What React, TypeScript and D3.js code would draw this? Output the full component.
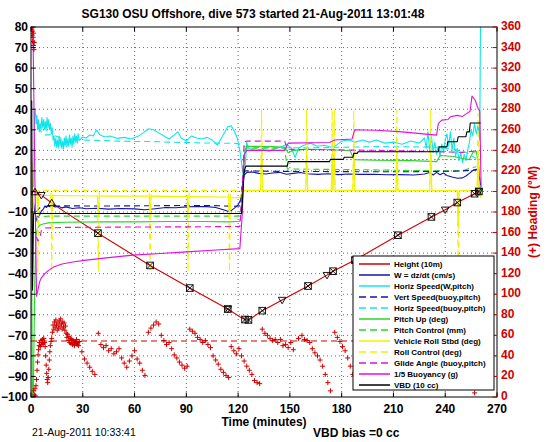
import React from 'react';
import * as d3 from 'd3';

type P = [number, number];

const titleText = 'SG130 OSU Offshore, dive 573 started 21-Aug-2011 13:01:48';
const xLabel = 'Time (minutes)';
const y2Label = '(+) Heading (\u00B0M)';
const footLeft = '21-Aug-2011 10:33:41';
const footRight = 'VBD bias =0 cc';

const xTicks = d3.range(0, 271, 30);
const yTicks = d3.range(-100, 81, 10);
const y2Ticks = d3.range(0, 361, 20);

// Height (10m)
const heightPts: P[] = [[0,0],[2.3,-0.3],[6,-1.8],[12,-5.6],[20,-10.2],[38.8,-20.3],[69,-36],[92,-47],[114,-57.2],[122,-61.5],[124,-62.3],[126,-62.5],[128,-61.5],[134,-58],[145.5,-52.8],[160.5,-46],[171.5,-40.7],[175,-38.8],[187.7,-33.4],[212.6,-21.3],[232,-12.4],[240,-8.9],[247,-5.4],[257,-1.1],[259.5,0]];
const heightDown: P[] = [[6,-1.8],[114,-57.2],[145.5,-52.8],[171.5,-40.7],[240,-8.9],[259.5,0]];
const heightUp: P[] = [[2.3,-0.3],[12,-5.6]];
const heightBox: P[] = [[38.8,-20.3],[69,-36],[92,-47],[114,-57.2],[124,-62.3],[126,-62.5],[134,-58],[160.5,-46],[175,-38.8],[187.7,-33.4],[212.6,-21.3],[232,-12.4],[247,-5.4],[257,-1.1],[259.5,0]];

// W = dz/dt
const wPts: P[] = [[0,0],[1,-3],[2,-9],[3,-13],[3.5,-14.5],[4,-12],[5,-11.5],[6,-9.5],[7,-8.8],[8,-7.2],[9,-7.8],[10,-6.8],[11,-7.5],[12,-7],[14,-7.6],[16,-7.2],[18,-8],[20,-7.5],[24,-8.3],[28,-7.9],[32,-8.4],[38,-8.2],[45,-8.6],[52,-8.3],[60,-8.5],[66,-8.9],[72,-8.4],[78,-7.8],[84,-7.9],[90,-7.5],[96,-7.3],[102,-7.4],[107,-7.8],[111,-8.8],[114,-9.6],[116,-9.3],[118,-8],[120,-6.5],[121.5,-4],[122.5,2],[123.5,8],[125,9.2],[128,9.5],[132,8.8],[136,8.5],[140,9],[144,9.3],[148,8.4],[152,8.8],[156,9.2],[160,8.6],[166,8.3],[172,8.6],[178,8.2],[184,8.5],[190,8.3],[198,8.4],[206,8.1],[214,8.2],[222,8],[228,8.5],[231,9.2],[233,8],[235,9.3],[237,8.1],[239,9],[241,7.8],[244,7],[247,6.4],[250,6.6],[252,7.5],[254,8.8],[256,10.2],[258,10.8],[259.5,9.5],[260.5,3]];
// Vert Speed(buoy,pitch)
const vsPts: P[] = [[3,-10],[5,-8],[8,-7.2],[20,-7],[40,-7.1],[60,-7],[80,-6.9],[100,-6.8],[110,-7],[118,-7.2],[121.5,-7],[122.5,5],[124,10],[140,9.8],[160,9.7],[190,9.6],[220,9.6],[240,9.8],[250,10],[258,10.5]];
// Horiz Speed(W,pitch)
const hsPts: P[] = [[1.5,2],[1.8,25],[2.1,38],[2.5,40],[3,33],[3.4,37],[3.8,30],[4.3,35],[4.8,29],[5.3,33],[5.8,30],[6.3,36],[6.8,31],[7.3,35],[7.8,30],[8.3,34],[8.8,29.5],[9.3,36],[9.8,31],[10.3,35],[10.8,30],[11.3,33],[11.8,28],[12.3,31],[12.8,25],[13.3,27],[13.8,22],[14.3,26],[14.8,21.5],[15.3,25],[15.8,21],[16.3,27],[16.8,22],[17.3,26],[17.8,21],[18.3,24.5],[18.8,20.5],[19.3,26],[19.8,22],[20.3,27],[20.8,21.5],[21.3,25],[21.8,22],[22.3,27.5],[22.8,23],[23.3,26],[23.8,21.5],[24.3,27],[24.8,23],[25.3,28],[25.8,24],[26.3,27],[26.8,23.5],[27.3,28],[28,25],[30,26.5],[32,26],[34,27.5],[36,27],[38,29.8],[40,27.5],[43,26.5],[46,27],[50,25.8],[54,26.3],[58,25.5],[62,26.8],[65,28.5],[68,30.5],[71,30],[74,28.5],[77,27],[80,25.5],[83,27.5],[85,29],[87,26],[90,24.5],[93,27],[96,26],[99,25.5],[102,26.3],[105,25],[108,22.5],[111,27],[114,31.5],[116,32],[118,29],[119.5,26],[121,20],[122,14],[123,7],[124,11],[125,24],[126,21],[130,20],[134,20.5],[138,19.5],[142,21],[146,22],[148,23],[151,21],[153,16.5],[155,21],[158,22.5],[162,23.5],[166,22],[170,22.5],[174,21.5],[177,22.5],[180,24.5],[184,25],[188,24],[192,25],[196,24],[200,25],[205,23.5],[210,24],[215,23],[220,24.5],[225,23.5],[228,26],[229,21],[230,29],[231,20],[232,27],[233,19],[234,24],[235,18],[236,22],[237,17],[238,23],[239,19],[240,25],[241,28],[242,22],[243,29],[244,20],[245,26],[246,17],[247,21],[248,15],[249,19],[250,14],[251,18],[252,15],[253,20],[254,24],[255,30],[256,27],[257,33],[258,28],[259,32],[260,25],[260.5,90]];
// Horiz Speed(buoy,pitch)
const hbPts: P[] = [[4,31],[6,29],[8,27.5],[12,27.5],[16,26.5],[20,25.5],[30,25],[40,24.8],[50,24.5],[60,24.3],[70,24.3],[80,24],[90,23.8],[100,23.6],[110,23.5],[118,23.4],[121.5,23],[123,22],[125,21.5],[140,21.3],[160,21.2],[180,21.5],[200,21.8],[220,21.7],[235,21.5],[245,20.5],[252,19],[256,17],[258,16]];
// Pitch Up (deg)
const pitchPts: P[] = [[0.2,-8],[0.8,-100],[1.3,-100],[2.2,-45],[2.8,-22],[3.5,-19],[4,-17.5],[5,-16.5],[7,-15.8],[10,-15.3],[20,-15],[40,-14.8],[60,-14.8],[80,-14.6],[100,-14.6],[115,-14.8],[121,-14.5],[122,-10],[123,8],[124,20],[125,22],[140,21.8],[147,21.5],[149,18.8],[152,20],[160,20.5],[175,20.3],[185,19.8],[187,15.5],[200,15.2],[220,15],[235,14.5],[237,17.5],[245,17],[250,16],[254,15.5],[256,19],[258,19.5],[259.5,12],[260.5,-2]];
// Pitch Control (mm)
const pcPts: P[] = [[2.5,-14],[4,-12.5],[10,-12],[40,-12],[80,-12],[121,-12],[122,-5],[123.5,20],[125,21],[147,21],[148.5,11],[160,10.8],[190,10.6],[220,10.2],[240,10],[250,10],[255,11.5],[258,12]];
// Vehicle Roll Stbd (deg)
const rollPts: P[] = [[0,14],[0.5,14],[1,-15],[1.5,-2],[3.5,-2],[4,-9],[4.5,-2],[11.5,-2],[12,-11],[12.6,-2],[38.5,-2.2],[39,-12],[39.6,-2.2],[68.5,-2.3],[69,-12],[69.6,-2.3],[90.5,-2.5],[91,-12],[91.6,-2.5],[114.5,-2.7],[115,-13],[115.6,-3],[121,-3],[122.5,0.5],[133,0.5],[133.6,20],[134.2,0.5],[159.2,0.5],[159.7,20],[160.3,0.5],[174,0.5],[174.5,18],[175,0.5],[175.7,18],[176.2,0.5],[186.5,0.5],[187,20],[187.6,0.5],[211.5,0.4],[212,20],[212.6,0.4],[231,0.4],[231.6,20],[232.2,0.4],[247,0.4],[247.5,-18],[248,0.4],[258.5,0.5],[259,20],[259.6,0],[260.5,-3]];
// Roll Control (deg)
const rcPts: P[] = [[1.5,0.5],[3.5,0.5],[4,-39],[4.6,0.5],[11.5,0.5],[12,-39],[12.6,0.5],[38.5,0.5],[39,-39],[39.6,0.5],[68.5,0.5],[69,-39],[69.6,0.5],[90.5,0.5],[91,-39],[91.6,0.5],[114.5,0.5],[115,-39],[115.6,0.5],[121,0.5],[122.5,0.3],[133,0.3],[133.6,39.5],[134.2,0.3],[159.2,0.3],[159.7,39.5],[160.3,0.3],[174,0.3],[174.5,39.5],[175,0.3],[175.7,39.5],[176.2,0.3],[186.5,0.3],[187,39.5],[187.6,0.3],[211.5,0.3],[212,39.5],[212.6,0.3],[231,0.3],[231.6,39.5],[232.2,0.3],[247,0.3],[247.5,-40],[248,0.3],[258.5,0.3],[259,38],[259.6,0.3]];
// Glide Angle (buoy,pitch)
const gaPts: P[] = [[3,-22],[4,-24],[5,-23],[6,-19],[8,-17.8],[20,-17.5],[60,-17.3],[100,-17.2],[121,-17],[122,-5],[123.5,24],[125,24.5],[147,24.5],[148.5,20.5],[170,20.3],[200,20],[230,19.5],[250,19],[256,19.5],[258,20]];
// 1/5 Buoyancy (g)
const buoyPts: P[] = [[0.3,95],[1.2,75],[2.2,10],[3.2,-51],[4,-48],[5,-44],[6,-42],[8,-40],[10,-38.5],[13,-36.8],[18,-35.3],[25,-34.2],[32,-33.4],[45,-32.2],[59,-31],[75,-30.2],[90,-29.4],[105,-28.6],[121,-27.8],[122.5,-10],[123.5,18],[125,20],[147,20],[149,23.5],[173,23.8],[176,25],[186,25.5],[187.5,30],[200,29.8],[215,29],[235,27.4],[236,33],[238,34.7],[241.6,35],[243,36.3],[247,37],[250,36.5],[252.6,38],[254.4,39],[255.5,46.4],[257.3,44.5],[259,40.5],[260,39],[260.8,2]];
// VBD (10 cc)
const vbdPts: P[] = [[0,44],[0.4,44],[0.9,-48],[1.5,-10.7],[122,-10.7],[122.5,-5],[123.5,10],[124.5,12.3],[148.5,12.3],[149,14.5],[173,14.5],[173.5,15.6],[181,15.6],[181.5,16.6],[186.5,16.6],[187,18.5],[189,18.5],[189.5,19.3],[236,19.3],[236.5,21.7],[241,21.7],[241.5,24.2],[247,24.2],[247.5,26.6],[252,26.6],[252.5,29],[254,29],[254.5,33.3],[260.5,33.3]];
// dotted W reference
const wRefPts: P[] = [[2,15.5],[260,15.5]];

// Heading (right axis, deg)
const headingPts: P[] = [[0.5,358],[0.7,352],[0.9,356],[1.0,346],[1.2,350],[1.4,342],[1.5,354],[1.7,338],[1.9,345],[1.6,6],[2.0,2],[2.3,8],[2.6,1],[2.9,11],[3.2,17],[3.5,26],[3.8,34],[4.1,41],[4.4,46],[4.7,50],[5.0,53],[5.4,49],[5.8,55],[6.2,51],[6.6,56],[7.0,52],[7.4,57],[7.8,53],[8.2,49],[8.5,40],[8.8,31],[9.1,23],[9.4,17],[9.7,14],[10.0,19],[10.3,27],[10.6,36],[10.9,44],[11.2,50],[11.6,54],[12.0,57],[12.4,63],[12.8,70],[13.2,66],[13.6,73],[14.0,68],[14.4,75],[14.8,70],[15.2,65],[15.6,72],[16.0,67],[16.4,74],[16.8,69],[17.2,76],[17.6,71],[18.0,66],[18.4,73],[18.8,68],[19.2,72],[19.6,65],[20.0,69],[20.4,62],[20.8,58],[21.2,61],[21.6,55],[22.0,59],[22.4,53],[22.8,57],[23.2,52],[23.6,56],[24.0,51],[24.4,55],[24.8,53],[25.2,50],[25.6,54],[26.0,52],[26.4,56],[26.8,51],[27.2,53],[27.6,50],[28.0,54],[29.5,44],[31,37],[32.5,33],[34,29],[35.5,25],[37,22],[39,62],[40.5,51],[42,48],[43.5,50],[45,45],[46.5,47],[48,42],[49.5,44],[51,47],[52.5,38],[54,33],[55.5,29],[57,35],[58.5,40],[60,45],[61.5,37],[63,33],[64.5,26],[66,21],[68,63],[69.5,67],[71,70],[72.5,73],[74,71],[75.5,60],[77,55],[78.5,51],[80,53],[81.5,47],[83,41],[84.5,38],[86,34],[87.5,31],[89,28],[90.5,30],[92,66],[93.5,64],[95,62],[96.5,58],[98,56],[99.5,53],[101,55],[102.5,51],[104,48],[105.5,40],[107,36],[108.5,32],[110,27],[111.5,24],[113,21],[114.5,19],[116,49],[117.5,45],[119,42],[120.5,47],[122,40],[123.5,35],[125,30],[126.5,26],[128,22],[129.5,16],[131,14],[132.5,13],[134,66],[135.5,62],[137,60],[138.5,57],[140,55],[141.5,56],[143,53],[144.5,56],[146,50],[147.5,51],[149,48],[150.5,53],[152,46],[155,57],[157,60],[158.5,56],[160,55],[161.5,53],[163,47],[164.5,43],[166,40],[167.5,36],[169,30],[170.5,22],[172,14],[173.5,6],[176,63],[177.5,58],[179,54],[180.5,49],[182,45],[183.5,38],[185,30],[186.5,22],[257,4]];
const headingTarget: P[] = [[0,54.5],[260,54.5]];

const RED = '#d00000';
const BLUE = '#1414a8';
const CYAN = '#10e6ea';
const GREEN = '#2ad62a';
const YELLOW = '#f2f200';
const MAGENTA = '#e010e0';
const BLACK = '#000000';
const DASH = '6 4';

const series = [
  { name: 'Height (10m)', pts: heightPts, color: RED, dash: '' },
  { name: 'W = dz/dt (cm/s)', pts: wPts, color: BLUE, dash: '' },
  { name: 'Horiz Speed(W,pitch)', pts: hsPts, color: CYAN, dash: '' },
  { name: 'Vert Speed(buoy,pitch)', pts: vsPts, color: BLUE, dash: DASH },
  { name: 'Horiz Speed(buoy,pitch)', pts: hbPts, color: CYAN, dash: DASH },
  { name: 'Pitch Up (deg)', pts: pitchPts, color: GREEN, dash: '' },
  { name: 'Pitch Control (mm)', pts: pcPts, color: GREEN, dash: DASH },
  { name: 'Vehicle Roll Stbd (deg)', pts: rollPts, color: YELLOW, dash: '' },
  { name: 'Roll Control (deg)', pts: rcPts, color: YELLOW, dash: DASH },
  { name: 'Glide Angle (buoy,pitch)', pts: gaPts, color: MAGENTA, dash: DASH },
  { name: '1/5 Buoyancy (g)', pts: buoyPts, color: MAGENTA, dash: '' },
  { name: 'VBD (10 cc)', pts: vbdPts, color: BLACK, dash: '' },
];

const FONT = '"Liberation Sans", Arial, Helvetica, sans-serif';

export default function App() {
  const L = 31, R = 497, T = 27, B = 397;
  const x = d3.scaleLinear().domain([0, 270]).range([L, R]);
  const y = d3.scaleLinear().domain([-100, 80]).range([B, T]);
  const y2 = d3.scaleLinear().domain([0, 360]).range([B, T]);
  const line = d3.line<P>().x(d => x(d[0])).y(d => y(d[1]));
  const fmt = d3.format('');

  const drawOrder = [series[0], series[2], series[4], series[6], series[5], series[1], series[3], series[8], series[7], series[9], series[10], series[11]];

  const legX = 353, legY = 256, legW = 141, legH = 134;

  return (
    <div style={{ position: 'fixed', left: 0, top: 0, width: 546, height: 442, background: '#fff' }}>
      <svg width={546} height={442} style={{ display: 'block', fontFamily: FONT }}>
        <rect x={0} y={0} width={546} height={442} fill="#fff" />
        <defs>
          <clipPath id="plotclip">
            <rect x={L} y={T} width={R - L} height={B - T} />
          </clipPath>
        </defs>
        {/* grid */}
        <g stroke="#444" strokeWidth={0.8} strokeDasharray="1 3">
          {xTicks.filter(t => t > 0 && t < 270).map(t => (
            <line key={'gx' + t} x1={x(t)} x2={x(t)} y1={T} y2={B} />
          ))}
          {yTicks.filter(t => t > -100 && t < 80).map(t => (
            <line key={'gy' + t} x1={L} x2={R} y1={y(t)} y2={y(t)} />
          ))}
        </g>
        <g clipPath="url(#plotclip)" fill="none">
          <path d={line(wRefPts) || ''} stroke={BLUE} strokeWidth={1} strokeDasharray="1 3" />
          {drawOrder.map(s => (
            <path key={s.name} d={line(s.pts) || ''} stroke={s.color} strokeWidth={1.1} strokeDasharray={s.dash || undefined} strokeLinejoin="round" />
          ))}
          {/* height markers */}
          <g stroke="#000" strokeWidth={0.9}>
            {heightBox.map((d, i) => {
              const cx = x(d[0]), cy = y(d[1]), s = 3.3;
              return (
                <g key={'hb' + i}>
                  <rect x={cx - s} y={cy - s} width={2 * s} height={2 * s} fill="none" />
                  <line x1={cx - s} y1={cy - s} x2={cx + s} y2={cy + s} />
                  <line x1={cx - s} y1={cy + s} x2={cx + s} y2={cy - s} />
                </g>
              );
            })}
            {heightDown.map((d, i) => {
              const cx = x(d[0]), cy = y(d[1]), s = 3.8;
              return <path key={'hd' + i} d={`M${cx - s},${cy - s * 0.7}L${cx + s},${cy - s * 0.7}L${cx},${cy + s}Z`} fill="none" />;
            })}
            {heightUp.map((d, i) => {
              const cx = x(d[0]), cy = y(d[1]), s = 3.8;
              return <path key={'hu' + i} d={`M${cx - s},${cy + s * 0.7}L${cx + s},${cy + s * 0.7}L${cx},${cy - s}Z`} fill="none" />;
            })}
          </g>
          {/* heading */}
          <path d={d3.line<P>().x(d => x(d[0])).y(d => y2(d[1]))(headingTarget) || ''} stroke={RED} strokeWidth={1} strokeDasharray={DASH} />
          <g stroke={RED} strokeWidth={1}>
            {headingPts.map((d, i) => {
              const cx = x(d[0]), cy = y2(d[1]), s = 2.5;
              return (
                <path key={'h' + i} d={`M${cx - s},${cy}H${cx + s}M${cx},${cy - s}V${cy + s}`} />
              );
            })}
          </g>
        </g>
        {/* axes box */}
        <rect x={L} y={T} width={R - L} height={B - T} fill="none" stroke="#000" strokeWidth={1} />
        {/* ticks */}
        <g stroke="#000" strokeWidth={1}>
          {xTicks.map(t => (
            <g key={'xt' + t}>
              <line x1={x(t)} x2={x(t)} y1={B} y2={B - 4.5} />
              <line x1={x(t)} x2={x(t)} y1={T} y2={T + 4.5} />
            </g>
          ))}
          {yTicks.map(t => (
            <line key={'yt' + t} x1={L} x2={L + 4.5} y1={y(t)} y2={y(t)} />
          ))}
        </g>
        <g stroke={RED} strokeWidth={1}>
          {y2Ticks.map(t => (
            <line key={'y2t' + t} x1={R} x2={R - 4.5} y1={y2(t)} y2={y2(t)} />
          ))}
        </g>
        {/* tick labels */}
        <g fontSize={12} fontWeight="bold" fill="#000">
          {xTicks.map(t => (
            <text key={'xl' + t} x={x(t)} y={413} textAnchor="middle">{fmt(t)}</text>
          ))}
          {yTicks.map(t => (
            <text key={'yl' + t} x={28} y={y(t) + 4.3} textAnchor="end">{fmt(t)}</text>
          ))}
        </g>
        <g fontSize={12} fontWeight="bold" fill={RED}>
          {y2Ticks.map(t => (
            <text key={'y2l' + t} x={501} y={y2(t) + 3} textAnchor="start">{fmt(t)}</text>
          ))}
        </g>
        {/* legend */}
        <g>
          <rect x={legX} y={legY} width={legW} height={legH} fill="#fff" stroke="#000" strokeWidth={1} />
          {series.map((s, i) => {
            const yy = legY + 8 + i * 11;
            return (
              <g key={'lg' + i}>
                <line x1={legX + 6} x2={legX + 37} y1={yy} y2={yy} stroke={s.color} strokeWidth={1.5} strokeDasharray={s.dash ? '7 4' : undefined} />
                <text x={legX + 41} y={yy + 3} fontSize={8} fontWeight="bold" fill="#000">{s.name}</text>
              </g>
            );
          })}
        </g>
        {/* titles */}
        <text x={253} y={18} textAnchor="middle" fontSize={12} fontWeight="bold">{titleText}</text>
        <text x={264} y={426} textAnchor="middle" fontSize={12} fontWeight="bold">{xLabel}</text>
        <text transform={`translate(537,${(T + B) / 2}) rotate(-90)`} textAnchor="middle" fontSize={12} fontWeight="bold" fill={RED}>{y2Label}</text>
        <text x={32} y={436} fontSize={10.5}>{footLeft}</text>
        <text x={313} y={437} fontSize={12} fontWeight="bold">{footRight}</text>
      </svg>
    </div>
  );
}
